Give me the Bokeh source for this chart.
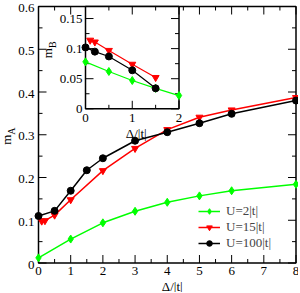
import math
from bokeh.plotting import figure
from bokeh.models import Range1d, Legend, LegendItem
from bokeh.core.properties import value
from bokeh.embed import file_html
from bokeh.resources import INLINE

# ---------------- data ----------------
# main panel: m_A versus Delta/|t|
delta_U2 = [0, 1, 2, 3, 4, 5, 6, 8]
mA_U2 = [0.012, 0.056, 0.094, 0.121, 0.142, 0.157, 0.169, 0.184]

delta_U15 = [0.1, 0.2, 0.5, 1, 2, 3, 4, 5, 6, 8]
mA_U15 = [0.098, 0.099, 0.112, 0.148, 0.216, 0.268, 0.312, 0.341, 0.358, 0.387]

delta_U100 = [0, 0.5, 1, 1.5, 2, 3, 4, 5, 6, 8]
mA_U100 = [0.110, 0.122, 0.169, 0.217, 0.245, 0.286, 0.306, 0.327, 0.349, 0.380]

# inset: m_B versus Delta/|t|
idelta_U2 = [0, 0.5, 1, 1.5, 2]
mB_U2 = [0.078, 0.062, 0.047, 0.034, 0.022]

idelta_U15 = [0.1, 0.2, 0.5, 1, 1.5]
mB_U15 = [0.114, 0.111, 0.097, 0.074, 0.052]

idelta_U100 = [0, 0.2, 0.5, 1, 1.5]
mB_U100 = [0.102, 0.095, 0.087, 0.064, 0.034]

series_labels = ["U=2|t|", "U=15|t|", "U=100|t|"]

# ticks and tick labels
x_major = [0, 1, 2, 3, 4, 5, 6, 7, 8]
x_minor = [0.5, 1.5, 2.5, 3.5, 4.5, 5.5, 6.5, 7.5]
x_labels = ["0", "1", "2", "3", "4", "5", "6", "7", "8"]
y_major = [0, 0.1, 0.2, 0.3, 0.4, 0.5, 0.6]
y_minor = [0.05, 0.15, 0.25, 0.35, 0.45, 0.55]
y_labels = ["0", "0.1", "0.2", "0.3", "0.4", "0.5", "0.6"]

ix_major = [0, 1, 2]
ix_minor = [0.5, 1.5]
ix_labels = ["0", "1", "2"]
iy_major = [0, 0.05, 0.1, 0.15]
iy_minor = [0.025, 0.075, 0.125]
iy_labels = ["0", "0.05", "0.1", "0.15"]

x_title = "Δ/|t|"

# ---------------- layout / style ----------------
FONT = "Liberation Serif"
W, H = 298, 292
XMIN, XMAX, YMIN, YMAX = 0, 8, 0, 0.6
IXMIN, IXMAX, IYMIN, IYMAX = 0, 2, 0, 0.17
# pixel boxes (left, right, top, bottom) of the main frame and of the inset
ML, MR, MT, MB = 38, 295.5, 6, 262.5
IL, IRt, IT, IB = 85, 178.5, 6, 108.3

GREEN, RED, BLACK = "#00ff00", "#ff0000", "#000000"


def full_range(lo, hi, p_lo, p_hi, total, flip=False):
    """Range over the whole canvas so that [lo, hi] lands on pixels [p_lo, p_hi]."""
    per = (hi - lo) / (p_hi - p_lo)
    if flip:  # vertical: pixels counted from the top
        return Range1d(lo - (total - p_hi) * per, hi + p_lo * per)
    return Range1d(lo - p_lo * per, hi + (total - p_hi) * per)


p = figure(width=W, height=H, output_backend="svg", toolbar_location=None,
           x_axis_type=None, y_axis_type=None, min_border=0,
           x_range=full_range(XMIN, XMAX, ML, MR, W),
           y_range=full_range(YMIN, YMAX, MT, MB, H, flip=True))
p.grid.visible = False
p.outline_line_color = None
p.background_fill_color = "white"
p.border_fill_color = "white"
p.extra_x_ranges = {"ix": full_range(IXMIN, IXMAX, IL, IRt, W)}
p.extra_y_ranges = {"iy": full_range(IYMIN, IYMAX, IT, IB, H, flip=True)}

TXT = dict(text_font=value(FONT), text_color="black")


def frame(xr, yr, xmaj, xmin_, ymaj, ymin_, rn=None, lw=1.5):
    kw = {} if rn is None else dict(x_range_name=rn[0], y_range_name=rn[1])
    x0, x1 = xr
    y0, y1 = yr
    p.quad(left=x0, right=x1, bottom=y0, top=y1, fill_color="white",
           line_color="black", line_width=lw, **kw)
    for ticks, ln in ((xmaj, 8), (xmin_, 4)):
        p.ray(x=ticks, y=[y0] * len(ticks), length=ln, angle=math.pi / 2,
              length_units="screen", line_color="black", **kw)
        p.ray(x=ticks, y=[y1] * len(ticks), length=ln, angle=-math.pi / 2,
              length_units="screen", line_color="black", **kw)
    for ticks, ln in ((ymaj, 8), (ymin_, 4)):
        p.ray(x=[x0] * len(ticks), y=ticks, length=ln, angle=0,
              length_units="screen", line_color="black", **kw)
        p.ray(x=[x1] * len(ticks), y=ticks, length=ln, angle=math.pi,
              length_units="screen", line_color="black", **kw)


# ---------------- main panel ----------------
frame((XMIN, XMAX), (YMIN, YMAX), x_major, x_minor, y_major, y_minor)

p.text(x=x_major, y=[YMIN] * len(x_major), text=x_labels, y_offset=8,
       text_align="center", text_baseline="middle", text_font_size="13px", **TXT)
p.text(x=[XMIN] * len(y_major), y=y_major, text=y_labels, x_offset=-4, y_offset=1.5,
       text_align="right", text_baseline="middle", text_font_size="13px", **TXT)
p.text(x=[(XMIN + XMAX) / 2], y=[YMIN], text=[x_title], x_offset=5, y_offset=23,
       text_align="center", text_baseline="middle", text_font_size="13px", **TXT)
p.text(x=[XMIN], y=[0.3], text=["m"], x_offset=-32, angle=math.pi / 2,
       text_align="right", text_baseline="middle", text_font_size="13px", **TXT)
p.text(x=[XMIN], y=[0.3], text=["A"], x_offset=-27, angle=math.pi / 2,
       text_align="left", text_baseline="middle", text_font_size="10px", **TXT)

r_l1 = p.line(delta_U2, mA_U2, line_color=GREEN, line_width=1.5)
r_s1 = p.scatter(delta_U2, mA_U2, marker="diamond", size=8, color=GREEN)
r_l2 = p.line(delta_U15, mA_U15, line_color=RED, line_width=1.5)
r_s2 = p.scatter(delta_U15, mA_U15, marker="inverted_triangle", size=7, color=RED)
r_l3 = p.line(delta_U100, mA_U100, line_color=BLACK, line_width=1.5)
r_s3 = p.scatter(delta_U100, mA_U100, marker="circle", size=7, color=BLACK)

# ---------------- inset ----------------
IR = dict(x_range_name="ix", y_range_name="iy")
frame((IXMIN, IXMAX), (IYMIN, IYMAX), ix_major, ix_minor, iy_major, iy_minor,
      rn=("ix", "iy"))

p.text(x=[IXMIN] * len(iy_major), y=iy_major, text=iy_labels, x_offset=-3,
       text_align="right", text_baseline="middle", text_font_size="13px", **TXT, **IR)
p.text(x=ix_major, y=[IYMIN] * len(ix_major), text=ix_labels, y_offset=9,
       text_align="center", text_baseline="middle", text_font_size="13px", **TXT, **IR)
p.text(x=[(IXMIN + IXMAX) / 2], y=[IYMIN], text=[x_title], x_offset=4, y_offset=25,
       text_align="center", text_baseline="middle", text_font_size="13px", **TXT, **IR)
p.text(x=[IXMIN], y=[0.101], text=["m"], x_offset=-38.5, angle=math.pi / 2,
       text_align="right", text_baseline="middle", text_font_size="13px", **TXT, **IR)
p.text(x=[IXMIN], y=[0.101], text=["B"], x_offset=-33, angle=math.pi / 2,
       text_align="left", text_baseline="middle", text_font_size="10px", **TXT, **IR)

p.line(idelta_U2, mB_U2, line_color=GREEN, line_width=1.2, **IR)
p.scatter(idelta_U2, mB_U2, marker="diamond", size=8, color=GREEN, **IR)
p.line(idelta_U15, mB_U15, line_color=RED, line_width=1.2, **IR)
p.scatter(idelta_U15, mB_U15, marker="inverted_triangle", size=7, color=RED, **IR)
p.line(idelta_U100, mB_U100, line_color=BLACK, line_width=1.2, **IR)
p.scatter(idelta_U100, mB_U100, marker="circle", size=7, color=BLACK, **IR)

# ---------------- legend ----------------
legend = Legend(items=[LegendItem(label=series_labels[0], renderers=[r_l1, r_s1]),
                       LegendItem(label=series_labels[1], renderers=[r_l2, r_s2]),
                       LegendItem(label=series_labels[2], renderers=[r_l3, r_s3])],
                location=(198, 41), label_text_font=FONT, label_text_font_size="13px",
                glyph_width=22, glyph_height=14, label_height=14, spacing=0, padding=0,
                margin=0, label_standoff=6, background_fill_alpha=0,
                border_line_color=None)
p.add_layout(legend)

open("out.html", "w").write(file_html(p, INLINE))
